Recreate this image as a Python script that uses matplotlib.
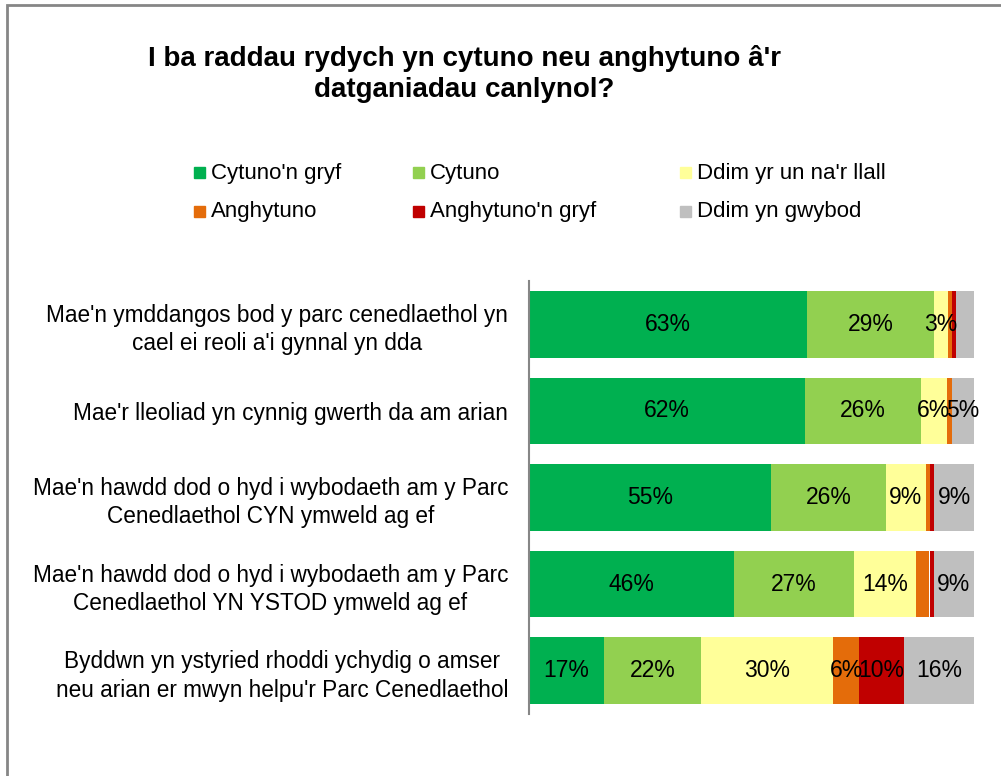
import matplotlib
matplotlib.use("Agg")
import matplotlib.pyplot as plt
from matplotlib.patches import Rectangle
import numpy as np

plt.rcParams['font.family'] = ['Liberation Sans', 'DejaVu Sans']

# survey statements (top to bottom)
categories = [
    "Mae'n ymddangos bod y parc cenedlaethol yn\ncael ei reoli a'i gynnal yn dda",
    "Mae'r lleoliad yn cynnig gwerth da am arian",
    "Mae'n hawdd dod o hyd i wybodaeth am y Parc\nCenedlaethol CYN ymweld ag ef",
    "Mae'n hawdd dod o hyd i wybodaeth am y Parc\nCenedlaethol YN YSTOD ymweld ag ef",
    "Byddwn yn ystyried rhoddi ychydig o amser\nneu arian er mwyn helpu'r Parc Cenedlaethol",
]

series_names = ["Cytuno'n gryf", "Cytuno", "Ddim yr un na'r llall",
                "Anghytuno", "Anghytuno'n gryf", "Ddim yn gwybod"]
colors = ["#00B050", "#92D050", "#FFFF99", "#E46C0A", "#C00000", "#BFBFBF"]

# percentages per series, one value per statement
cytuno_gryf = [63, 62, 55, 46, 17]
cytuno = [29, 26, 26, 27, 22]
dim_llall = [3, 6, 9, 14, 30]
anghytuno = [1, 1, 1, 3, 6]
anghytuno_gryf = [1, 0, 1, 1, 10]
dim_gwybod = [4, 5, 9, 9, 16]

# labels that are not shown on the chart: (statement, series)
hidden_labels = [(0, 3), (0, 4), (0, 5), (1, 3), (2, 3), (2, 4), (3, 3), (3, 4)]

data = np.array([cytuno_gryf, cytuno, dim_llall, anghytuno,
                 anghytuno_gryf, dim_gwybod], dtype=float)
shares = data / data.sum(axis=0) * 100  # 100% stacked

W, H = 1001, 776
fig = plt.figure(figsize=(W / 100, H / 100), dpi=100)

# chart area border
fig.patches.append(Rectangle((7 / W, -0.05), 1.1, 1 - 5 / H + 0.05,
                             transform=fig.transFigure, fill=False,
                             edgecolor="#868686", linewidth=2))

fig.text(0.464, 1 - 74 / H, "I ba raddau rydych yn cytuno neu anghytuno â'r\ndatganiadau canlynol?",
         ha="center", va="center", fontsize=20, fontweight="bold", linespacing=1.22)

ax = fig.add_axes([529 / W, 1 - 714 / H, 445 / W, 433 / H])
y = np.arange(len(categories))
left = np.zeros(len(categories))
for k in range(len(series_names)):
    ax.barh(y, shares[k], left=left, height=0.77, color=colors[k],
            label=series_names[k])
    for i in range(len(categories)):
        if shares[k, i] > 0 and (i, k) not in hidden_labels:
            ax.text(left[i] + shares[k, i] / 2, y[i], f"{int(data[k, i])}%",
                    ha="center", va="center", fontsize=16.5)
    left += shares[k]

ax.set_xlim(0, 100)
ax.set_ylim(len(categories) - 0.5, -0.5)
ax.set_xticks([])
ax.set_yticks(y)
ax.set_yticklabels(categories, fontsize=16.3, multialignment="center",
                   linespacing=1.3)
ax.tick_params(axis="y", length=0, pad=15)
for s in ["top", "right", "bottom"]:
    ax.spines[s].set_visible(False)
ax.spines["left"].set_color("#868686")
ax.spines["left"].set_linewidth(1.5)

# legend in two rows of three
leg_x = [211, 430, 697]
leg_y = [173, 212]
for k, name in enumerate(series_names):
    px = leg_x[k % 3]
    py = leg_y[k // 3]
    fig.patches.append(Rectangle(((px - 17) / W, 1 - (py + 5) / H), 11 / W, 11 / H,
                                 transform=fig.transFigure, color=colors[k]))
    fig.text(px / W, 1 - py / H, name, ha="left", va="center", fontsize=16)

fig.savefig("out.png", dpi=100)
